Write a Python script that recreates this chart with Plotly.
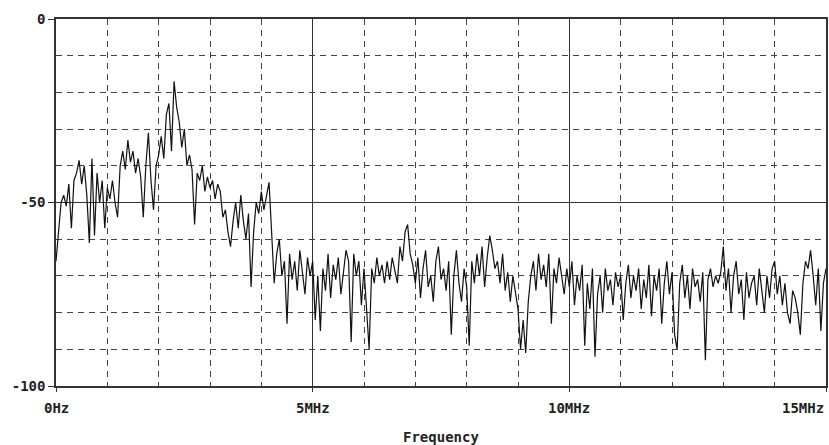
import plotly.graph_objects as go

step_mhz = 0.05
db_values = [
    # 0 - 0.95 MHz
    -66, -58, -50, -48, -51, -45, -57, -44, -42, -38.5, -45, -40, -48, -61, -38, -59, -42, -50, -44, -57,
    # 1 - 1.95 MHz
    -46, -49, -44, -50, -54, -40, -36, -41, -33, -39, -36, -42, -38, -43, -54, -40, -31, -44, -52, -40,
    # 2 - 2.95 MHz
    -37, -32, -38, -26, -23, -36, -17, -24, -28, -35, -30, -40, -37, -41, -56, -42, -44, -40, -47, -43,
    # 3 - 3.95 MHz
    -46, -44, -49, -45, -47, -54, -52, -58, -62, -55, -50, -57, -48, -55, -60, -53, -73, -58, -50, -53,
    # 4 - 4.95 MHz
    -47, -52, -48, -44.5, -58, -72, -64, -60, -70, -66, -83, -64, -71, -66, -74, -63, -69, -75, -65, -70,
    # 5 - 5.95 MHz
    -66, -82, -70, -85, -68, -74, -64, -76, -67, -71, -65, -75, -69, -63, -66, -88, -64, -70, -66, -78,
    # 6 - 6.95 MHz
    -68, -80, -90, -68, -72, -65, -70, -67, -72, -66, -71, -65, -69, -72, -62, -66, -58, -56, -64, -67,
    # 7 - 7.95 MHz
    -72, -65, -76, -68, -63, -73, -70, -77, -66, -62, -71, -68, -74, -66, -86, -70, -63, -72, -77, -68,
    # 8 - 8.95 MHz
    -73, -89, -66, -72, -64, -70, -62, -73, -65, -59, -63, -68, -66, -72, -64, -74, -69, -77, -70, -75,
    # 9 - 9.95 MHz
    -79, -90, -82, -91, -77, -70, -66, -74, -64, -71, -67, -73, -64, -83, -68, -72, -65, -70, -75, -68,
    # 10 - 10.95 MHz
    -73, -66, -78, -70, -74, -67, -89, -72, -79, -68, -92, -75, -70, -80, -68, -74, -71, -78, -69, -73,
    # 11 - 11.95 MHz
    -70, -82, -72, -67, -76, -70, -74, -68, -79, -71, -76, -67, -81, -70, -74, -68, -83, -72, -66, -75,
    # 12 - 12.95 MHz
    -69, -86, -90, -72, -67, -76, -70, -79, -68, -73, -71, -77, -69, -93, -71, -68, -73, -70, -72, -69,
    # 13 - 13.95 MHz
    -62, -74, -68, -80, -70, -66, -75, -71, -82, -69, -76, -72, -70, -78, -68, -74, -80, -70, -76, -68,
    # 14 - 15 MHz
    -66, -75, -70, -78, -72, -80, -83, -74, -76, -80, -86, -72, -66, -68, -63, -70, -78, -68, -85, -72, -68,
]
freq_mhz = [round(i * step_mhz, 4) for i in range(len(db_values))]

x_tick_vals = [0, 5, 10, 15]
x_tick_text = ["0Hz", "5MHz", "10MHz", "15MHz"]
y_tick_vals = [-100, -50, 0]
y_tick_text = ["-100", "-50", "0"]
x_title = "Frequency"

FONT = "DejaVu Sans Mono"

fig = go.Figure()
fig.add_trace(go.Scatter(
    x=freq_mhz, y=db_values, mode="lines",
    line=dict(color="#111111", width=1.2),
    hoverinfo="skip", showlegend=False,
))

fig.update_layout(
    width=829, height=445,
    margin=dict(l=56, r=1, t=19, b=59),
    paper_bgcolor="white", plot_bgcolor="white",
    font=dict(family=FONT, size=13, color="#222"),
)

fig.update_xaxes(
    range=[0, 15],
    tickvals=x_tick_vals, ticktext=[""] * len(x_tick_vals),
    showgrid=True, gridcolor="#333", gridwidth=1,
    showline=True, linecolor="#333", linewidth=1.5, mirror=True,
    ticks="outside", ticklen=4, tickcolor="#333",
    minor=dict(dtick=1, showgrid=True, gridcolor="#444", griddash="6px,5px", gridwidth=1, ticks=""),
    zeroline=False,
)
fig.update_yaxes(
    range=[-100, 0],
    tickvals=y_tick_vals, ticktext=y_tick_text,
    tickfont=dict(family=FONT, size=14, color="#222", weight="bold"),
    showgrid=True, gridcolor="#333", gridwidth=1,
    showline=True, linecolor="#333", linewidth=1.5, mirror=True,
    ticks="outside", ticklen=6, tickcolor="#333",
    minor=dict(dtick=10, showgrid=True, gridcolor="#444", griddash="6px,5px", gridwidth=1, ticks=""),
    zeroline=False,
)

annotations = []
for v, t in zip(x_tick_vals, x_tick_text):
    anchor = "right" if v == 15 else "center"
    annotations.append(dict(
        x=v, y=0, xref="x", yref="paper", text=t, showarrow=False,
        xanchor=anchor, yanchor="top", yshift=-12,
        font=dict(family=FONT, size=14, color="#222", weight="bold"),
    ))
annotations.append(dict(
    x=0.5, y=0, xref="paper", yref="paper", text=x_title, showarrow=False,
    xanchor="center", yanchor="top", yshift=-41,
    font=dict(family=FONT, size=14, color="#222", weight="bold"),
))
fig.update_layout(annotations=annotations)

fig.write_html("out.html")
